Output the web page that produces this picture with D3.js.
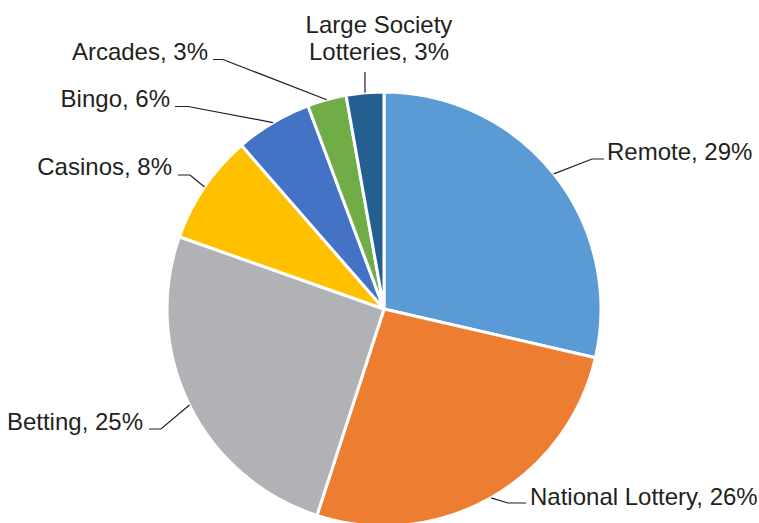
<!DOCTYPE html>
<html><head><meta charset="utf-8">
<script src="https://cdn.jsdelivr.net/npm/d3@7/dist/d3.min.js"></script>
<style>html,body{margin:0;padding:0;background:#fff;}svg{display:block;}</style>
</head><body>
<svg id="chart" width="759" height="523"></svg>
<script>
const categories = ["Remote", "National Lottery", "Betting", "Casinos", "Bingo", "Arcades", "Large Society Lotteries"];
const values = [28.6, 26.4, 25.4, 8.2, 5.7, 2.9, 2.8];
const labelTexts = [["Remote, 29%"], ["National Lottery, 26%"], ["Betting, 25%"], ["Casinos, 8%"], ["Bingo, 6%"], ["Arcades, 3%"], ["Large Society", "Lotteries, 3%"]];
const colors = ["#5b9bd5", "#ed7d31", "#b1b2b6", "#ffc000", "#4472c4", "#70ad47", "#255e91"];

// label layout: text position (baseline of last line), anchor, elbow point, horizontal end
const labelLayout = [
  {tx: 607, ty: 160, anchor: "start", ex: 592, ey: 159, hx: 604},
  {tx: 530, ty: 505, anchor: "start", ex: 508, ey: 503, hx: 526},
  {tx: 143, ty: 430, anchor: "end", ex: 161, ey: 429, hx: 149},
  {tx: 172, ty: 175, anchor: "end", ex: 190, ey: 175, hx: 178},
  {tx: 170, ty: 107, anchor: "end", ex: 188, ey: 106.5, hx: 175},
  {tx: 208, ty: 60, anchor: "end", ex: 223, ey: 59.5, hx: 213},
  {tx: 379, ty: 60, anchor: "middle", ex: 365, ey: 72, hx: 365}
];

const svg = d3.select("#chart");
const cx = 384, cy = 309, r = 217;
const g = svg.append("g").attr("transform", `translate(${cx},${cy})`);

const pie = d3.pie().sort(null).value(d => d);
const arcs = pie(values);
const arc = d3.arc().innerRadius(0).outerRadius(r);
const edgeArc = d3.arc().innerRadius(r).outerRadius(r);

g.selectAll("path.slice").data(arcs).join("path")
  .attr("class", "slice")
  .attr("d", arc)
  .attr("fill", (d, i) => colors[i])
  .attr("stroke", "#fff")
  .attr("stroke-width", 3)
  .attr("stroke-linejoin", "round");

const lines = svg.append("g");
arcs.forEach((d, i) => {
  const c = edgeArc.centroid(d);
  const p0 = [cx + c[0], cy + c[1]];
  const L = labelLayout[i];
  const pts = [p0, [L.ex, L.ey], [L.hx, L.ey]];
  lines.append("path")
    .attr("d", d3.line()(pts))
    .attr("fill", "none")
    .attr("stroke", "#231f20")
    .attr("stroke-width", 1.2);
  const lines_ = labelTexts[i];
  const t = svg.append("text")
    .attr("x", L.tx)
    .attr("y", L.ty - (lines_.length - 1) * 27)
    .attr("text-anchor", L.anchor)
    .attr("font-family", "Liberation Sans, Arial, sans-serif")
    .attr("font-size", 24)
    .attr("fill", "#231f20");
  lines_.forEach((s, j) => {
    t.append("tspan").attr("x", L.tx).attr("dy", j === 0 ? 0 : 27).text(s);
  });
});
</script>
</body></html>
